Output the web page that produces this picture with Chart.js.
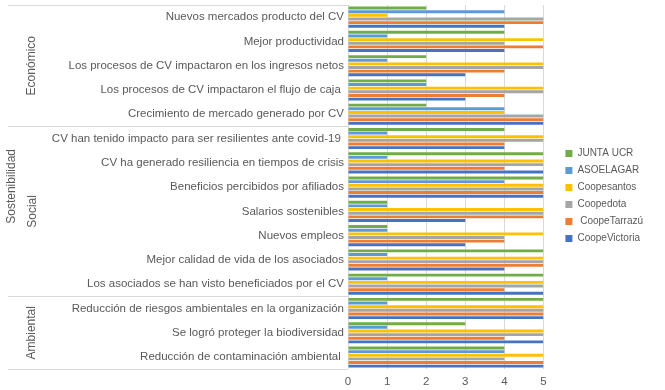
<!DOCTYPE html>
<html>
<head>
<meta charset="utf-8">
<script src="https://cdn.jsdelivr.net/npm/chart.js@4"></script>
<style>
  html, body { margin: 0; padding: 0; background: #fff; }
  #wrap { width: 665px; height: 390px; }
</style>
</head>
<body>
<div id="wrap"><canvas id="c" width="665" height="390"></canvas></div>
<script>
// categories, top to bottom as in the picture
const categories = [
  "Nuevos mercados producto del CV",
  "Mejor productividad",
  "Los procesos de CV impactaron en los ingresos netos",
  "Los procesos de CV impactaron el flujo de caja ",
  "Crecimiento de mercado generado por CV",
  "CV han tenido impacto para ser resilientes ante covid-19 ",
  "CV ha generado resiliencia en tiempos de crisis",
  "Beneficios percibidos por afiliados",
  "Salarios sostenibles",
  "Nuevos empleos",
  "Mejor calidad de vida de los asociados",
  "Los asociados se han visto beneficiados por el CV",
  "Reducción de riesgos ambientales en la organización",
  "Se logró proteger la biodiversidad",
  "Reducción de contaminación ambiental "
];
// groups: [label lines, first index, last index]
const groups = [
  [["Económico"], 0, 4],
  [["Sostenibilidad", "Social"], 5, 11],
  [["Ambiental"], 12, 14]
];

const juntaUCR      = [2, 4, 2, 2, 2, 4, 5, 5, 1, 1, 5, 5, 5, 3, 4];
const asoelagar     = [4, 1, 1, 2, 4, 1, 1, 4, 1, 1, 1, 1, 1, 1, 4];
const coopesantos   = [1, 5, 5, 5, 4, 5, 5, 5, 5, 5, 5, 5, 5, 5, 5];
const coopedota     = [5, 4, 5, 5, 5, 5, 5, 5, 5, 4, 5, 5, 5, 5, 4];
const coopeTarrazu  = [5, 5, 4, 4, 5, 4, 4, 5, 5, 4, 5, 4, 5, 4, 5];
const coopeVictoria = [4, 4, 3, 3, 5, 4, 5, 5, 3, 3, 4, 5, 5, 5, 5];

const xTicks = [0, 1, 2, 3, 4, 5];

const textColor = '#595959';
const lineColor = '#d9d9d9';
const fontFamily = "'Liberation Sans', Arial, sans-serif";

// group labels on the left + separator lines
const groupAxis = {
  id: 'groupAxis',
  afterLayout(chart) {
    // leave a gap between plot and legend like the original
    chart.legend.left += 15;
    chart.legend.right += 15;
    chart.legend.top -= 4;
    chart.legend.bottom -= 4;
  },
  afterDraw(chart) {
    const ctx = chart.ctx;
    const y = chart.scales.y;
    const area = chart.chartArea;
    const step = y.getPixelForValue(1) - y.getPixelForValue(0);
    ctx.save();
    ctx.strokeStyle = lineColor;
    ctx.lineWidth = 1;
    const edges = [];
    groups.forEach(g => {
      const top = y.getPixelForValue(g[1]) - step / 2;
      const bot = y.getPixelForValue(g[2]) + step / 2;
      edges.push(top, bot);
      const mid = (top + bot) / 2;
      ctx.fillStyle = textColor;
      ctx.font = "12px " + fontFamily;
      ctx.textAlign = 'center';
      ctx.textBaseline = 'middle';
      const lines = g[0];
      lines.forEach((t, i) => {
        const cx = lines.length > 1 ? 12 + i * 21 : 32;
        const cy = lines.length > 1 && i === 0 ? mid - 25 : mid;
        ctx.save();
        ctx.translate(cx, cy);
        ctx.rotate(-Math.PI / 2);
        ctx.fillText(t, 0, 0);
        ctx.restore();
      });
    });
    [...new Set(edges.map(e => Math.round(e)))].forEach(e => {
      ctx.beginPath();
      ctx.moveTo(8, e + 0.5);
      ctx.lineTo(area.left, e + 0.5);
      ctx.stroke();
    });
    ctx.restore();
  }
};

const mk = (label, data, color) => ({
  label: label, data: data, backgroundColor: color, borderWidth: 0,
  categoryPercentage: 0.9, barPercentage: 0.8
});

new Chart(document.getElementById('c').getContext('2d'), {
  type: 'bar',
  data: {
    labels: categories,
    datasets: [
      mk('JUNTA UCR', juntaUCR, '#70AD47'),
      mk('ASOELAGAR', asoelagar, '#5B9BD5'),
      mk('Coopesantos', coopesantos, '#FFC000'),
      mk('Coopedota', coopedota, '#A5A5A5'),
      mk(' CoopeTarrazú', coopeTarrazu, '#ED7D31'),
      mk('CoopeVictoria', coopeVictoria, '#4472C4')
    ]
  },
  options: {
    indexAxis: 'y',
    responsive: false,
    animation: false,
    layout: { padding: { left: 44, top: 5, right: 27, bottom: -5 } },
    scales: {
      x: {
        min: 0, max: 5,
        afterBuildTicks: s => { s.ticks = xTicks.map(v => ({ value: v })); },
        grid: { color: lineColor, drawTicks: false },
        border: { display: false },
        ticks: { color: textColor, font: { family: fontFamily, size: 11.5 }, padding: 6 }
      },
      y: {
        grid: { display: false, drawTicks: false },
        border: { display: false },
        ticks: { color: textColor, font: { family: fontFamily, size: 11.5 }, padding: 4, autoSkip: false },
        afterFit: s => { s.width = 304; s.paddingTop = 0; s.paddingBottom = 0; }
      }
    },
    plugins: {
      tooltip: { enabled: false },
      legend: {
        position: 'right',
        labels: {
          color: textColor, font: { family: fontFamily, size: 10 },
          boxWidth: 7, boxHeight: 7, padding: 7
        }
      }
    }
  },
  plugins: [groupAxis]
});
</script>
</body>
</html>
